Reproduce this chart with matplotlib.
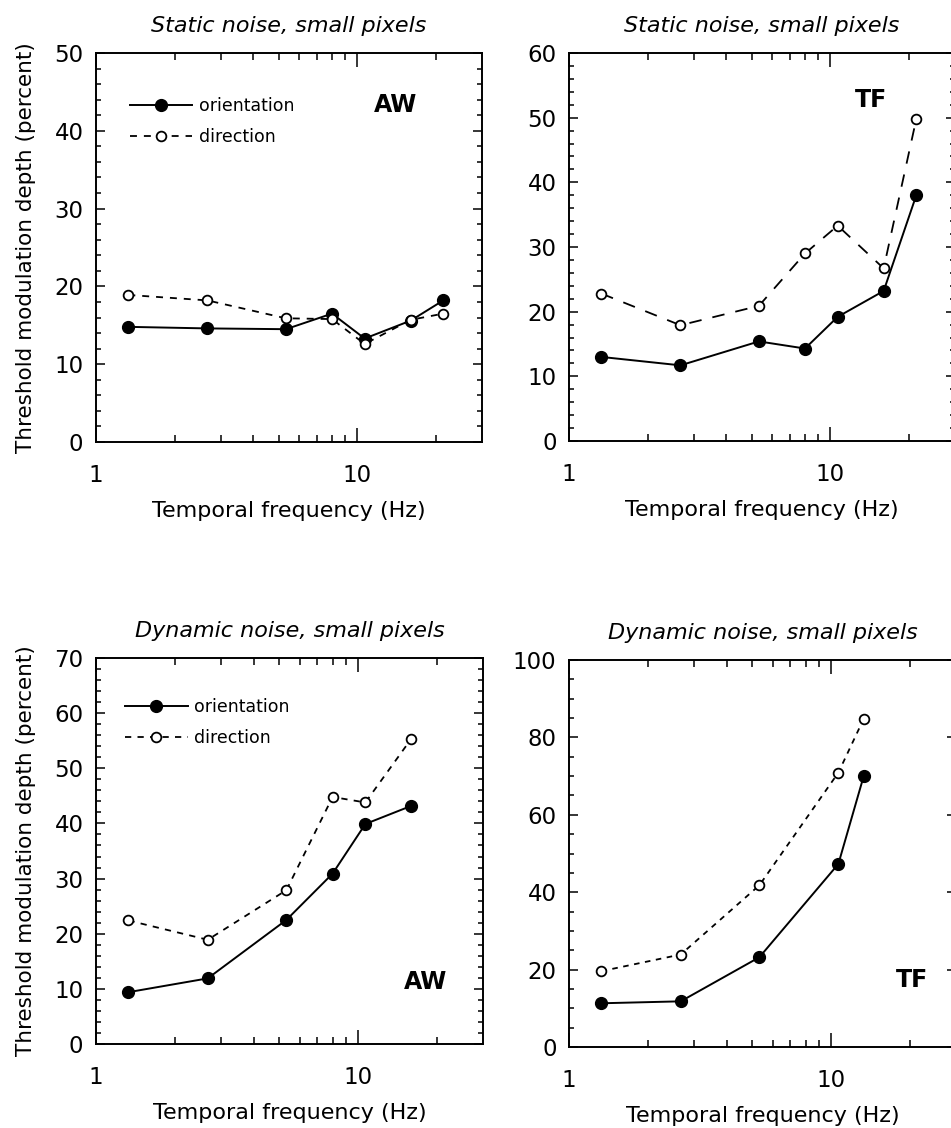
import matplotlib
matplotlib.use('Agg')
import matplotlib.pyplot as plt
from matplotlib.ticker import FixedLocator, FixedFormatter, MultipleLocator

plt.rcParams['font.family'] = ['DejaVu Sans']
plt.rcParams['lines.scale_dashes'] = False

# ---------------- data ----------------
tf_static = [1.33, 2.67, 5.33, 8.0, 10.67, 16.0, 21.33]
aw_static_orient = [14.8, 14.6, 14.5, 16.5, 13.3, 15.6, 18.2]
aw_static_dir = [18.9, 18.2, 15.9, 15.8, 12.6, 15.7, 16.5]
tf_static_orient = [13.0, 11.7, 15.4, 14.3, 19.2, 23.2, 38.0]
tf_static_dir = [22.8, 17.9, 20.9, 29.0, 33.3, 26.7, 49.8]

tf_dyn_aw = [1.33, 2.67, 5.33, 8.0, 10.67, 16.0]
aw_dyn_orient = [9.4, 11.9, 22.5, 30.9, 39.9, 43.2]
aw_dyn_dir = [22.4, 18.9, 27.9, 44.8, 43.8, 55.4]

tf_dyn_tf = [1.33, 2.67, 5.33, 10.67, 13.33]
tf_dyn_orient = [11.3, 11.8, 23.2, 47.3, 70.0]
tf_dyn_dir = [19.6, 23.9, 41.8, 70.9, 84.8]

x_major = [1, 10]
x_major_labels = ['1', '10']
x_minor = [2, 3, 4, 5, 6, 7, 8, 9, 20]

titles = ['Static noise, small pixels', 'Static noise, small pixels',
          'Dynamic noise, small pixels', 'Dynamic noise, small pixels']
xlabel = 'Temporal frequency (Hz)'
ylabel = 'Threshold modulation depth (percent)'

fig = plt.figure(figsize=(9.51, 11.28), dpi=100)
W, H = 951, 1128

def make_ax(x0, x1, ytop, ybot):
    return fig.add_axes([x0 / W, 1 - ybot / H, (x1 - x0) / W, (ybot - ytop) / H])

axes = [make_ax(96, 482, 53, 442), make_ax(569, 955, 53, 441),
        make_ax(96, 483, 658, 1044), make_ax(569, 956, 660, 1047)]

panels = [
    (tf_static, aw_static_orient, aw_static_dir, 50, 10, 2, (5, 5), 'AW', (14.0, 43.3), True),
    (tf_static, tf_static_orient, tf_static_dir, 60, 10, 2, (9, 8), 'TF', (14.3, 52.8), False),
    (tf_dyn_aw, aw_dyn_orient, aw_dyn_dir, 70, 10, 2, (4.5, 4.5), 'AW', (18.1, 11.3), True),
    (tf_dyn_tf, tf_dyn_orient, tf_dyn_dir, 100, 20, 5, (4, 4), 'TF', (20.3, 17.4), False),
]

for i, (ax, p) in enumerate(zip(axes, panels)):
    xs, yo, yd, ymax, ymaj, ymin, dash, tag, tagpos, is_left = p
    ax.plot(xs, yo, color='black', lw=1.4, marker='o', ms=8.5,
            mfc='black', mec='black', label='orientation', zorder=3)
    ax.plot(xs, yd, color='black', lw=1.3, marker='o', ms=7,
            mfc='white', mec='black', mew=1.3, dashes=dash, label='direction', zorder=4)
    ax.set_xscale('log')
    ax.set_xlim(1, 30)
    ax.set_ylim(0, ymax)
    ax.xaxis.set_major_locator(FixedLocator(x_major))
    ax.xaxis.set_major_formatter(FixedFormatter(x_major_labels))
    ax.xaxis.set_minor_locator(FixedLocator(x_minor))
    ax.xaxis.set_minor_formatter(FixedFormatter([''] * len(x_minor)))
    ax.yaxis.set_major_locator(MultipleLocator(ymaj))
    ax.yaxis.set_minor_locator(MultipleLocator(ymin))
    ax.tick_params(which='both', direction='in', top=True, right=True, width=1.1)
    ax.tick_params(axis='x', which='major', length=10, pad=16, labelsize=16.5)
    ax.tick_params(axis='x', which='minor', length=5)
    ax.tick_params(axis='y', which='major', length=6.5, pad=9, labelsize=16.5)
    ax.tick_params(axis='y', which='minor', length=3.5)
    for s in ax.spines.values():
        s.set_linewidth(1.4)
    ax.set_title(titles[i], style='italic', fontsize=16, pad=15)
    ax.set_xlabel(xlabel, fontsize=16, labelpad=10)
    if is_left:
        ax.set_ylabel(ylabel, fontsize=15.5, labelpad=13)
    ax.text(tagpos[0], tagpos[1], tag, fontsize=17, fontweight='bold',
            ha='center', va='center')

# legends on left panels
leg_anchor = {0: (0.088, 0.887), 2: (0.075, 0.897)}
for i, anchor in leg_anchor.items():
    axes[i].legend(loc='upper left', bbox_to_anchor=anchor, frameon=False,
                   fontsize=12.5, handlelength=3.6, handletextpad=0.4,
                   labelspacing=0.75, borderpad=0, borderaxespad=0)

fig.savefig('out.png', dpi=100)
